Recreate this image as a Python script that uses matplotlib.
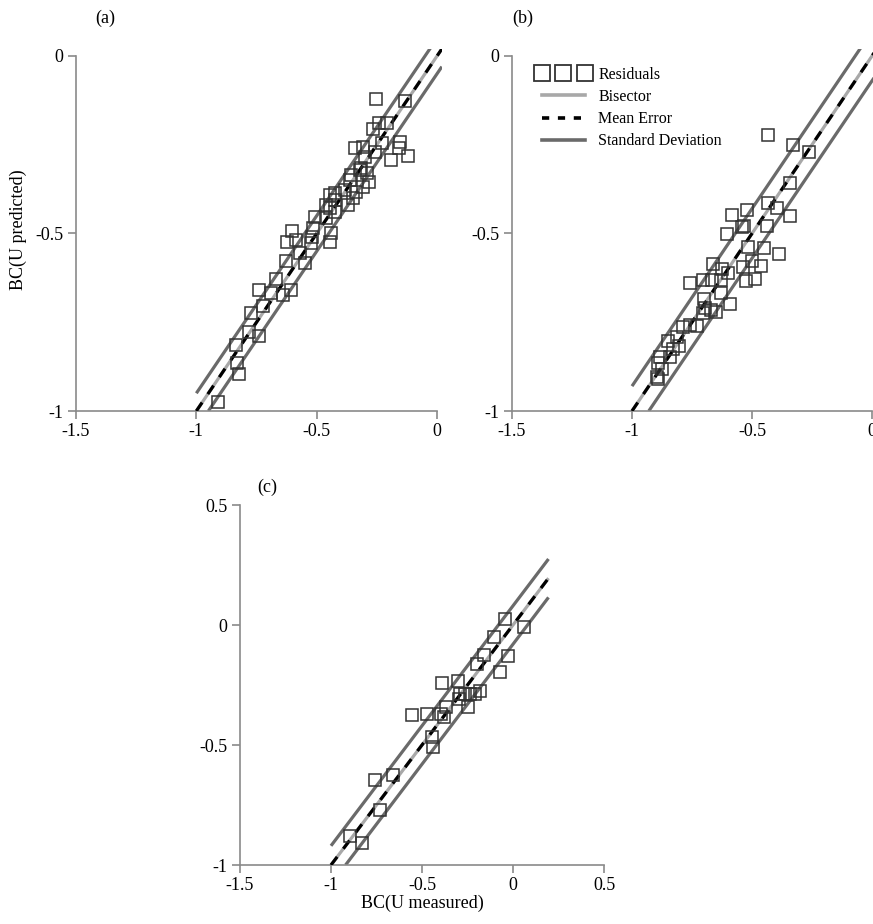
import numpy as np
import matplotlib
matplotlib.use("Agg")
import matplotlib.pyplot as plt
from matplotlib.lines import Line2D

plt.rcParams["font.family"] = ["Liberation Serif", "DejaVu Serif"]
plt.rcParams["font.size"] = 13

# ---- data: measured vs predicted BC(U) ----
a_measured = [-0.2556, -0.1333, -0.2403, -0.2097, -0.2653, -0.2306, -0.1542, -0.1583,
              -0.1194, -0.1931, -0.3417, -0.3069, -0.2583, -0.3000, -0.3139, -0.3556,
              -0.3208, -0.2931, -0.2819, -0.3097, -0.3347, -0.3486, -0.3694, -0.3833,
              -0.3625, -0.4250, -0.4458, -0.4250, -0.4597, -0.4458, -0.4250, -0.4597,
              -0.5083, -0.5153, -0.4389, -0.4458, -0.6014, -0.6236, -0.5847, -0.5181,
              -0.5222, -0.5708, -0.6264, -0.5500, -0.6681, -0.7417, -0.6889, -0.6403,
              -0.6083, -0.7236, -0.7722, -0.7792, -0.7403, -0.8347, -0.8319, -0.8236,
              -0.9111]
a_predicted = [-0.1220, -0.1258, -0.1878, -0.1878, -0.2066, -0.2441, -0.2413, -0.2601,
               -0.2817, -0.2930, -0.2601, -0.2554, -0.2695, -0.2836, -0.3164, -0.3352,
               -0.3211, -0.3305, -0.3559, -0.3681, -0.3822, -0.4009, -0.4197, -0.3775,
               -0.3493, -0.3869, -0.3915, -0.4056, -0.4197, -0.4291, -0.4385, -0.4573,
               -0.4544, -0.4854, -0.4977, -0.5249, -0.4920, -0.5249, -0.5183, -0.5089,
               -0.5258, -0.5559, -0.5765, -0.5822, -0.6291, -0.6592, -0.6685, -0.6732,
               -0.6592, -0.7042, -0.7230, -0.7765, -0.7887, -0.8141, -0.8657, -0.8958,
               -0.9737]

b_measured = [-0.4319, -0.3278, -0.2611, -0.3417, -0.4319, -0.3972, -0.3417, -0.5222,
              -0.5847, -0.5333, -0.5431, -0.4389, -0.6056, -0.5153, -0.4500, -0.3861,
              -0.6639, -0.6264, -0.6014, -0.5361, -0.5014, -0.4639, -0.7583, -0.7028,
              -0.6681, -0.6306, -0.5250, -0.4875, -0.6292, -0.7000, -0.5917, -0.6958,
              -0.6722, -0.6500, -0.7028, -0.7861, -0.7583, -0.7306, -0.8111, -0.8486,
              -0.8028, -0.8278, -0.8833, -0.8417, -0.8903, -0.8764, -0.8972, -0.8903]
b_predicted = [-0.2225, -0.2507, -0.2695, -0.3568, -0.4150, -0.4272, -0.4507, -0.4338,
               -0.4479, -0.4789, -0.4826, -0.4789, -0.5023, -0.5371, -0.5418, -0.5577,
               -0.5859, -0.6009, -0.6103, -0.5934, -0.5765, -0.5906, -0.6404, -0.6310,
               -0.6310, -0.6310, -0.6329, -0.6291, -0.6685, -0.6845, -0.6986, -0.7108,
               -0.7155, -0.7202, -0.7249, -0.7643, -0.7577, -0.7606, -0.7925, -0.8019,
               -0.8169, -0.8263, -0.8488, -0.8488, -0.8638, -0.8826, -0.9033, -0.9108]

c_measured = [-0.0421, 0.0582, -0.1024, -0.1571, -0.0294, -0.1972, -0.0695, -0.3888,
              -0.3031, -0.2885, -0.2611, -0.2337, -0.2063, -0.1826, -0.2976, -0.2483,
              -0.3706, -0.5567, -0.4709, -0.3979, -0.3797, -0.4435, -0.4379, -0.7574,
              -0.6588, -0.7318, -0.8960, -0.8321]
c_predicted = [0.0247, -0.0098, -0.0483, -0.1269, -0.1310, -0.1627, -0.1957, -0.2412,
               -0.2315, -0.2894, -0.2894, -0.2866, -0.2894, -0.2756, -0.3100, -0.3403,
               -0.3417, -0.3748, -0.3720, -0.3720, -0.3817, -0.4657, -0.5098, -0.6475,
               -0.6269, -0.7715, -0.8789, -0.9092]

# mean error and standard deviation of each model
mean_error = {"a": 0.0, "b": 0.0, "c": 0.0}
std_dev = {"a": 0.05, "b": 0.07, "c": 0.08}

# ---- styling ----
SPINE = "#8a8a8a"
BISECTOR = "#a8a8a8"
SDCOL = "#6a6a6a"
SQUARE = "#333333"
FS = 13

W, H = 873, 924
fig = plt.figure(figsize=(W / 100, H / 100), dpi=100)


def make_axes(xlim, ylim, x_px, y_px):
    """x_px/y_px give pixel positions of xlim[0], xlim[1] / ylim[0], ylim[1]."""
    left = x_px[0] / W
    width = (x_px[1] - x_px[0]) / W
    bottom = 1 - y_px[0] / H
    height = (y_px[0] - y_px[1]) / H
    ax = fig.add_axes([left, bottom, width, height])
    ax.set_xlim(*xlim)
    ax.set_ylim(*ylim)
    return ax


def style(ax, xb, yb, xticks, yticks, xlabels, ylabels):
    for s in ("top", "right"):
        ax.spines[s].set_visible(False)
    for s in ("left", "bottom"):
        ax.spines[s].set_color(SPINE)
        ax.spines[s].set_linewidth(1.2)
    ax.spines["bottom"].set_bounds(*xb)
    ax.spines["left"].set_bounds(*yb)
    ax.set_xticks(xticks)
    ax.set_xticklabels(xlabels)
    ax.set_yticks(yticks)
    ax.set_yticklabels(ylabels)
    ax.tick_params(direction="out", length=6, width=1.2, color=SPINE,
                   labelsize=FS, pad=3)
    ax.patch.set_alpha(0)


def draw_panel(ax, xs, ys, me, sd, x_end, y_floor):
    # bisector, mean error and +/- standard deviation lines
    def seg(off):
        x0 = max(-1.0, y_floor - off)
        xx = np.array([x0, x_end])
        return xx, xx + off
    bx, by = seg(0.0)
    ax.plot(bx, by, color=BISECTOR, lw=2.3, solid_capstyle="butt", zorder=2)
    for off in (me + sd, me - sd):
        sx, sy = seg(off)
        ax.plot(sx, sy, color=SDCOL, lw=2.3, solid_capstyle="butt", zorder=2)
    mx, my = seg(me)
    ax.plot(mx, my, color="black", lw=2.3, ls=(0, (3.2, 3.2)), zorder=3)
    ax.plot(xs, ys, ls="none", marker="s", ms=8.0, mfc="none", mec=SQUARE,
            mew=1.1, zorder=4)


# ---- panel (a) ----
ax_a = make_axes((-1.5, 0.02), (-1.0, 0.02),
                 (76, 76 + 1.52 * 240.7), (411, 411 - 1.02 * 355))
style(ax_a, (-1.5, 0), (-1, 0), [-1.5, -1, -0.5, 0], [-1, -0.5, 0],
      ["-1.5", "-1", "-0.5", "0"], ["-1", "-0.5", "0"])
draw_panel(ax_a, a_measured, a_predicted, mean_error["a"], std_dev["a"], 0.02, -1.0)
ax_a.set_ylabel("BC(U predicted)", fontsize=FS, labelpad=6)
fig.text(105 / W, 1 - 18 / H, "(a)", ha="center", va="center", fontsize=FS)

# ---- panel (b) ----
ax_b = make_axes((-1.5, 0.02), (-1.0, 0.02),
                 (512, 512 + 1.52 * 240), (411, 411 - 1.02 * 355))
style(ax_b, (-1.5, 0), (-1, 0), [-1.5, -1, -0.5, 0], [-1, -0.5, 0],
      ["-1.5", "-1", "-0.5", "0"], ["-1", "-0.5", "0"])
draw_panel(ax_b, b_measured, b_predicted, mean_error["b"], std_dev["b"], 0.02, -1.0)
fig.text(523 / W, 1 - 18 / H, "(b)", ha="center", va="center", fontsize=FS)

LFS = 11.5
handles = [
    Line2D([], [], ls="none", marker="s", ms=11.5, mfc="none", mec=SQUARE, mew=1.3),
    Line2D([], [], color=BISECTOR, lw=2.6),
    Line2D([], [], color="black", lw=2.6, ls=(0, (2.0, 2.4))),
    Line2D([], [], color=SDCOL, lw=2.6),
]
ax_b.legend(handles, ["Residuals", "Bisector", "Mean Error", "Standard Deviation"],
            loc="upper left",
            bbox_to_anchor=((537 - 512) / (1.52 * 240), 1 - (67 - 48.9) / 362.1),
            frameon=False, numpoints=3, handlelength=3.3, handletextpad=0.55,
            labelspacing=0.38, fontsize=LFS, borderaxespad=0, borderpad=0)

# ---- panel (c) ----
ax_c = make_axes((-1.5, 0.5), (-1.0, 0.5), (240, 604), (865, 505))
style(ax_c, (-1.5, 0.5), (-1, 0.5), [-1.5, -1, -0.5, 0, 0.5], [-1, -0.5, 0, 0.5],
      ["-1.5", "-1", "-0.5", "0", "0.5"], ["-1", "-0.5", "0", "0.5"])
draw_panel(ax_c, c_measured, c_predicted, mean_error["c"], std_dev["c"], 0.195, -1.0)
ax_c.set_xlabel("BC(U measured)", fontsize=FS, labelpad=0)
fig.text(267 / W, 1 - 487 / H, "(c)", ha="center", va="center", fontsize=FS)

fig.savefig("out.png", dpi=100)
